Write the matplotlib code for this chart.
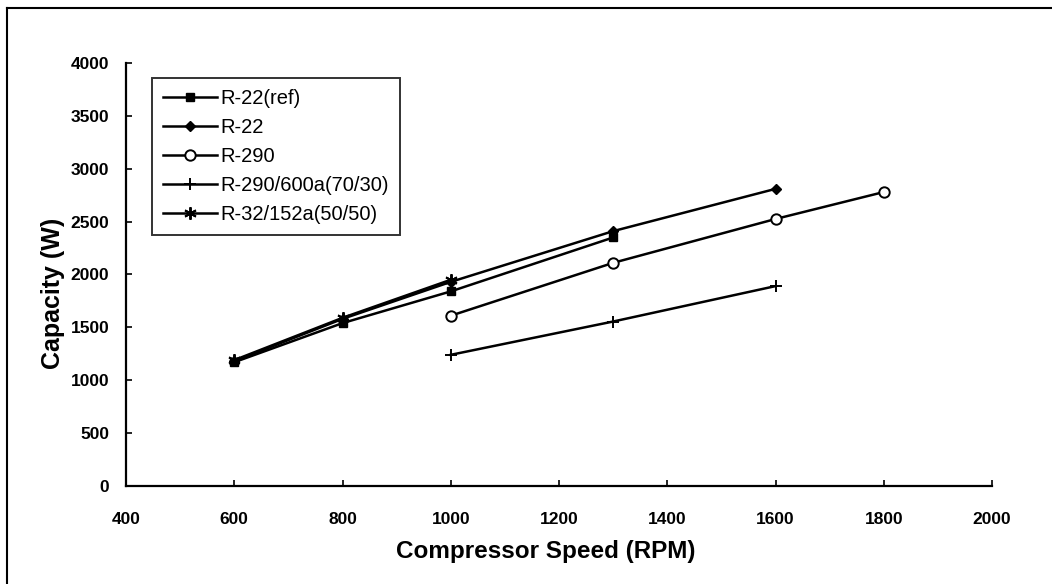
import matplotlib
matplotlib.use("Agg")
import matplotlib.pyplot as plt
from matplotlib.lines import Line2D

plt.rcParams['font.family'] = ['Liberation Sans', 'DejaVu Sans']

# data
ref_rpm = [600, 800, 1000, 1300]
ref_cap = [1170, 1540, 1840, 2350]
r22_rpm = [600, 800, 1000, 1300, 1600]
r22_cap = [1180, 1580, 1930, 2410, 2810]
r290_rpm = [1000, 1300, 1600, 1800]
r290_cap = [1610, 2110, 2525, 2780]
mix_rpm = [1000, 1300, 1600]
mix_cap = [1240, 1555, 1890]
r32_rpm = [600, 800, 1000]
r32_cap = [1190, 1590, 1950]

xticks = [400, 600, 800, 1000, 1200, 1400, 1600, 1800, 2000]
yticks = [0, 500, 1000, 1500, 2000, 2500, 3000, 3500, 4000]

fig = plt.figure(figsize=(10.52, 5.84), dpi=100)
ax = fig.add_axes([0.1198, 0.168, 0.8232, 0.724])

lw = 1.8
ax.plot(ref_rpm, ref_cap, color='black', lw=lw, marker='s', ms=5.5, label='R-22(ref)')
ax.plot(r22_rpm, r22_cap, color='black', lw=lw, marker='D', ms=5.5, label='R-22')
ax.plot(r290_rpm, r290_cap, color='black', lw=lw, marker='o', ms=7.5, mfc='white', mew=1.4, label='R-290')
ax.plot(mix_rpm, mix_cap, color='black', lw=lw, marker='+', ms=9, mew=1.4, label='R-290/600a(70/30)')
ax.plot(r32_rpm, r32_cap, color='black', lw=lw, marker=(6, 2, 0), ms=9, mew=1.4, label='R-32/152a(50/50)')

ax.set_xlim(400, 2000)
ax.set_ylim(0, 4000)
ax.set_xticks(xticks)
ax.set_yticks(yticks)
ax.tick_params(direction='in', length=4, width=1.2, labelsize=12.5)
ax.tick_params(axis='x', pad=19)
ax.tick_params(axis='y', pad=12)
for lab in ax.get_xticklabels() + ax.get_yticklabels():
    lab.set_fontweight('bold')
for s in ['top', 'right']:
    ax.spines[s].set_visible(False)
for s in ['left', 'bottom']:
    ax.spines[s].set_linewidth(1.6)

ax.set_xlabel('Compressor Speed (RPM)', fontsize=17.5, fontweight='bold')
ax.set_ylabel('Capacity (W)', fontsize=18, fontweight='bold')
ax.xaxis.set_label_coords(0.485, -0.128)
ax.yaxis.set_label_coords(-0.071, 0.456)

leg = ax.legend(loc='upper left', bbox_to_anchor=(152 / 1052, 1 - 78 / 584),
                bbox_transform=fig.transFigure, fontsize=14.5, frameon=True,
                fancybox=False, edgecolor='black', handlelength=2.7,
                handletextpad=0.15, borderpad=0.55, labelspacing=0.5,
                borderaxespad=0)
leg.get_frame().set_linewidth(1.4)

# outer border of the scanned figure
fig.add_artist(Line2D([7 / 1052, 1.0], [1 - 8 / 584, 1 - 8 / 584], color='black', lw=1.5))
fig.add_artist(Line2D([7 / 1052, 7 / 1052], [0, 1 - 8 / 584], color='black', lw=1.5))

fig.savefig('out.png', dpi=100)
